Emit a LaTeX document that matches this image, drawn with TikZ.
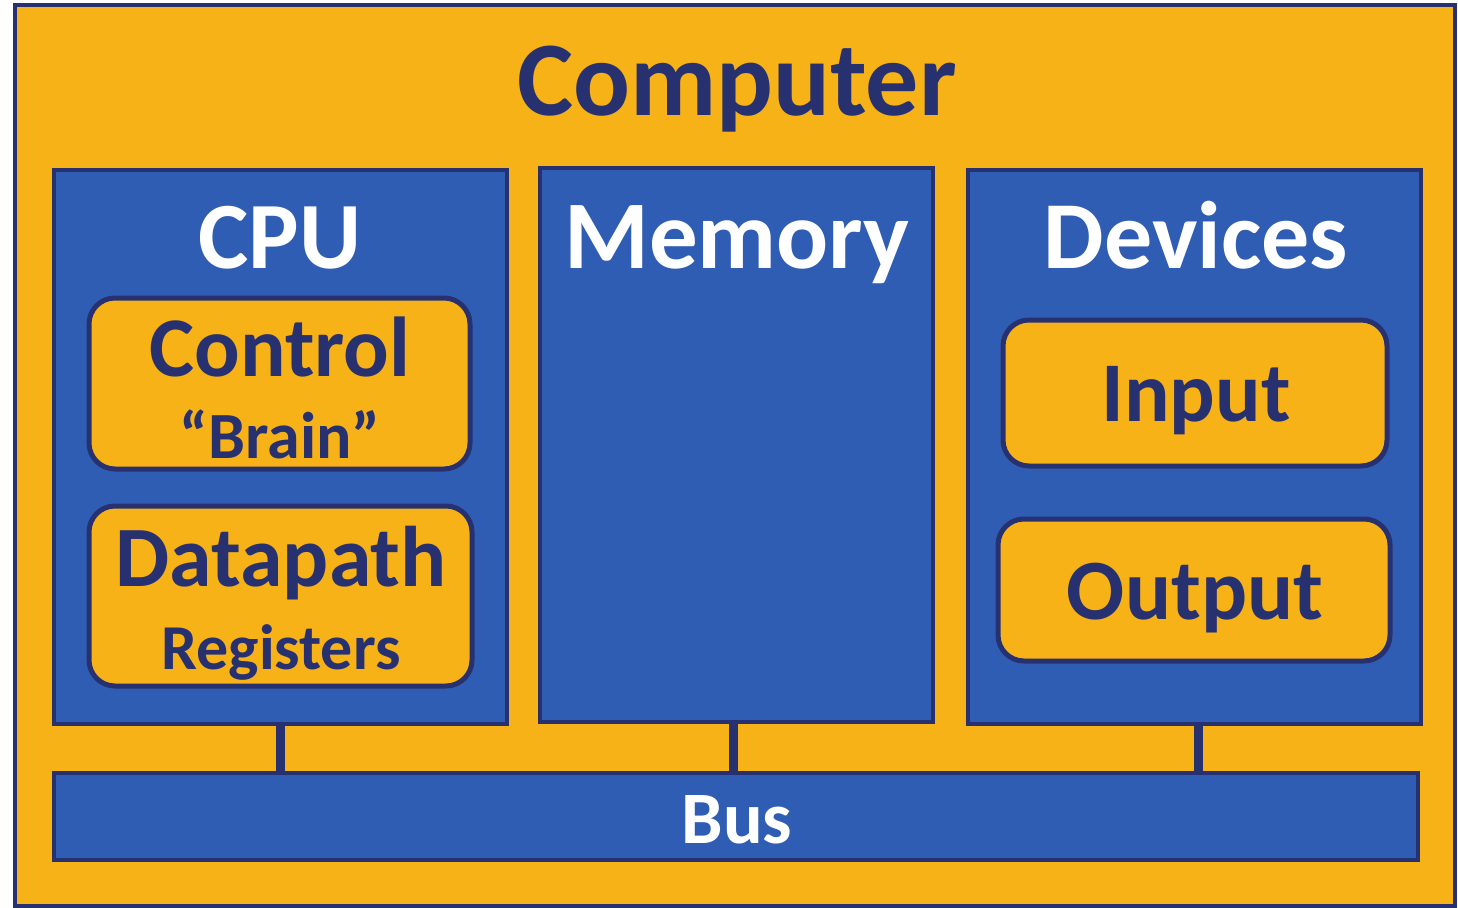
\documentclass[tikz,border=0pt]{standalone}
\usepackage{fontspec}
\setmainfont{Carlito}
\definecolor{orng}{HTML}{F7B218}
\definecolor{blu}{HTML}{2F5DB4}
\definecolor{navy}{HTML}{283170}
\tikzset{
  bluebox/.style={draw=navy, fill=blu, line width=4.5pt, rectangle, inner sep=0pt},
  orbox/.style={draw=navy, fill=orng, line width=5pt, rectangle, rounded corners=26pt, inner sep=0pt},
  link/.style={draw=navy, line width=9pt},
  wtxt/.style={text=white, anchor=base, inner sep=0pt, font=\bfseries},
  ntxt/.style={text=navy, anchor=base, inner sep=0pt, font=\bfseries},
}
\newcommand{\fs}[1]{\fontsize{#1}{#1}\selectfont}
\begin{document}
\begin{tikzpicture}[x=1pt,y=-1pt]
\useasboundingbox (0,0) rectangle (1458,907);
% outer
\node[draw=navy, fill=orng, line width=4pt, inner sep=0pt, minimum width=1440pt, minimum height=900pt] (comp) at (735,455.5) {};
\node[ntxt] (comptxt) at (737,115) {\fs{106}Computer};
% bus
\node[bluebox, minimum width=1364pt, minimum height=87pt] (bus) at (736,816.5) {};
\node[wtxt] (bustxt) at (737,843) {\fs{74}Bus};
% blue boxes
\node[bluebox, minimum width=453pt, minimum height=554pt] (cpu) at (280.5,447) {};
\node[bluebox, minimum width=393pt, minimum height=554pt] (mem) at (736.5,445) {};
\node[bluebox, minimum width=453pt, minimum height=554pt] (dev) at (1194.5,447) {};
% connectors
\coordinate (c1) at (280,724);
\coordinate (c2) at (733,722);
\coordinate (c3) at (1198,724);
\draw[link] (c1) -- (c1 |- bus.north);
\draw[link] (c2) -- (c2 |- bus.north);
\draw[link] (c3) -- (c3 |- bus.north);
\node[bluebox, minimum width=453pt, minimum height=554pt] at (cpu) {};
\node[bluebox, minimum width=393pt, minimum height=554pt] at (mem) {};
\node[bluebox, minimum width=453pt, minimum height=554pt] at (dev) {};
\node[wtxt] (cputxt) at (280,268) {\fs{95}CPU};
\node[wtxt] (memtxt) at (737,268) {\fs{97}Memory};
\node[wtxt] (devtxt) at (1196,268) {\fs{96}Devices};
% inner orange boxes
\node[orbox, minimum width=381pt, minimum height=171pt] (ctrl) at (279.5,383.5) {};
\node[ntxt] (ctrltxt) at (280,376) {\fs{85}Control};
\node[ntxt] (braintxt) at (280,458) {\fs{66}“Brain”};
\node[orbox, minimum width=383pt, minimum height=180pt] (dp) at (280.5,596) {};
\node[ntxt] (dptxt) at (281,586) {\fs{86}Datapath};
\node[ntxt] (regtxt) at (281,669) {\fs{64}Registers};
\node[orbox, minimum width=384pt, minimum height=146pt] (inp) at (1195,393) {};
\node[ntxt] (inptxt) at (1196,421) {\fs{85}Input};
\node[orbox, minimum width=392pt, minimum height=142pt] (outp) at (1194,590) {};
\node[ntxt] (outptxt) at (1195,619) {\fs{86}Output};
\end{tikzpicture}
\end{document}
